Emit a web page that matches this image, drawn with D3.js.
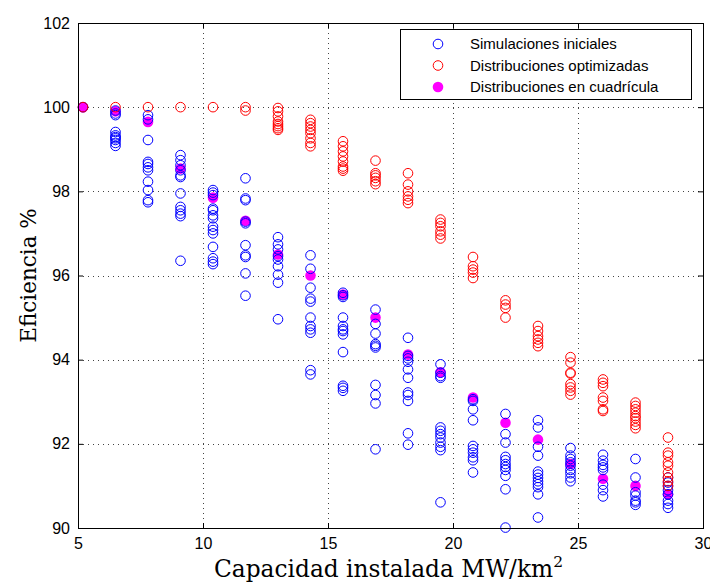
<!DOCTYPE html>
<html>
<head>
<meta charset="utf-8">
<script src="https://cdn.jsdelivr.net/npm/d3@7"></script>
<style>
  html, body { margin: 0; padding: 0; background: #fff; }
  svg { display: block; }
</style>
</head>
<body>
<svg id="chart" width="710" height="583"></svg>
<script>
// Installed capacity (MW/km²) of each simulated layout group
const capacities = [5.2, 6.5, 7.8, 9.1, 10.4, 11.7, 13.0, 14.3, 15.6, 16.9, 18.2, 19.5, 20.8, 22.1, 23.4, 24.7, 26.0, 27.3, 28.6];

// Efficiency (%) of the initial simulations, one list per capacity
const initialSims = [
  [100],
  [99.92, 99.85, 99.81, 99.41, 99.33, 99.29, 99.26, 99.22, 99.15, 99.08],
  [99.81, 99.71, 99.22, 98.70, 98.65, 98.57, 98.50, 98.23, 98.03, 97.79, 97.74],
  [98.86, 98.74, 98.62, 98.50, 98.38, 98.34, 97.95, 97.63, 97.55, 97.47, 97.41, 96.35],
  [98.03, 97.97, 97.91, 97.59, 97.55, 97.43, 97.36, 97.16, 97.08, 97.00, 96.68, 96.41, 96.33, 96.27],
  [98.31, 97.83, 97.79, 97.28, 97.24, 96.72, 96.48, 96.44, 96.05, 95.52],
  [96.91, 96.74, 96.62, 96.46, 96.38, 96.22, 96.02, 95.83, 94.96],
  [96.48, 96.16, 95.71, 95.45, 95.38, 95.00, 94.80, 94.72, 94.64, 93.75, 93.65],
  [95.59, 95.53, 95.49, 95.00, 94.80, 94.72, 94.68, 94.60, 94.18, 93.38, 93.33, 93.26],
  [95.19, 94.85, 94.62, 94.37, 94.33, 94.29, 93.40, 93.16, 92.96, 91.87],
  [94.52, 94.09, 94.03, 93.95, 93.77, 93.57, 93.22, 93.16, 93.02, 92.25, 91.98],
  [93.89, 93.69, 93.61, 93.57, 92.39, 92.31, 92.23, 92.15, 92.03, 91.93, 91.85, 90.61],
  [93.06, 93.02, 92.82, 92.56, 91.95, 91.87, 91.79, 91.68, 91.61, 91.32],
  [92.71, 92.23, 92.03, 91.69, 91.61, 91.52, 91.45, 91.38, 91.24, 90.92, 90.01],
  [92.56, 92.39, 91.93, 91.72, 91.34, 91.27, 91.19, 91.11, 91.04, 90.97, 90.80, 90.25],
  [91.90, 91.72, 91.64, 91.56, 91.48, 91.38, 91.30, 91.20, 91.11],
  [91.74, 91.60, 91.50, 91.44, 91.38, 91.03, 90.90, 90.75],
  [91.64, 91.20, 90.85, 90.77, 90.65, 90.61, 90.55],
  [91.20, 91.08, 91.00, 90.90, 90.80, 90.65, 90.57, 90.48]
];

// Efficiency (%) of the optimized layouts, one list per capacity
const optimizedLayouts = [
  [100],
  [100],
  [100],
  [100],
  [100],
  [100, 99.92],
  [99.98, 99.90, 99.78, 99.66, 99.60, 99.55, 99.50, 99.46],
  [99.70, 99.62, 99.54, 99.46, 99.38, 99.26, 99.15, 99.07],
  [99.19, 99.07, 98.95, 98.83, 98.71, 98.59, 98.54, 98.49],
  [98.73, 98.43, 98.38, 98.32, 98.24, 98.17],
  [98.43, 98.16, 98.00, 97.88, 97.80, 97.72],
  [97.33, 97.25, 97.17, 97.05, 96.97, 96.88],
  [96.44, 96.22, 96.14, 96.07, 95.94],
  [95.41, 95.31, 95.23, 95.00],
  [94.80, 94.68, 94.56, 94.48, 94.40, 94.32],
  [94.06, 93.93, 93.69, 93.67, 93.42, 93.34, 93.26, 93.17],
  [93.53, 93.45, 93.37, 93.10, 93.02, 92.82, 92.78],
  [92.98, 92.90, 92.82, 92.74, 92.66, 92.61, 92.53, 92.45, 92.37],
  [92.15, 91.79, 91.72, 91.56, 91.48, 91.32, 91.20, 91.11, 91.00]
];

// Efficiency (%) of the regular grid layout at each capacity
const gridLayouts = [100, 99.90, 99.65, 98.54, 97.85, 97.30, 96.50, 96.00, 95.55, 95.00, 94.12, 93.70, 93.10, 92.50, 92.10, 91.52, 91.17, 91.00, 90.80];

const xTicks = [5, 10, 15, 20, 25, 30];
const yTicks = [90, 92, 94, 96, 98, 100, 102];

const seriesNames = ["Simulaciones iniciales", "Distribuciones optimizadas", "Distribuciones en cuadrícula"];
const seriesColors = ["#0000ff", "#ff0000", "#ff00ff"];

const margin = { left: 78, right: 7, top: 23, bottom: 55 };
const W = 710, H = 583;
const x = d3.scaleLinear().domain([5, 30]).range([margin.left, W - margin.right]);
const y = d3.scaleLinear().domain([90, 102]).range([H - margin.bottom, margin.top]);

const svg = d3.select("#chart");
const tickFont = "'Liberation Sans', Arial, Helvetica, sans-serif";
const labelFont = "'DejaVu Serif', 'Liberation Serif', serif";

// dotted grid
const grid = svg.append("g").attr("stroke", "#444").attr("stroke-width", 1)
  .attr("stroke-dasharray", "1,4").attr("shape-rendering", "crispEdges");
grid.selectAll("line.vx").data(xTicks.slice(1, -1)).join("line")
  .attr("x1", d => Math.round(x(d)) + 0.5).attr("x2", d => Math.round(x(d)) + 0.5)
  .attr("y1", y(102)).attr("y2", y(90));
grid.selectAll("line.hy").data(yTicks.slice(1, -1)).join("line")
  .attr("y1", d => Math.round(y(d)) + 0.5).attr("y2", d => Math.round(y(d)) + 0.5)
  .attr("x1", x(5)).attr("x2", x(30));

// axes with inward ticks on all four sides
const tickLen = 5;
const xAxis = d3.axisBottom(x).tickValues(xTicks).tickSize(-tickLen).tickPadding(10).tickFormat(d3.format("d"));
const yAxis = d3.axisLeft(y).tickValues(yTicks).tickSize(-tickLen).tickPadding(8).tickFormat(d3.format("d"));
const xAxisTop = d3.axisTop(x).tickValues(xTicks).tickSize(-tickLen).tickFormat("");
const yAxisRight = d3.axisRight(y).tickValues(yTicks).tickSize(-tickLen).tickFormat("");

function styleAxis(g) {
  g.select(".domain").remove();
  g.selectAll(".tick line").attr("stroke", "#000");
  g.selectAll("text").attr("font-family", tickFont).attr("font-size", 16).attr("fill", "#000");
}
svg.append("g").attr("transform", `translate(0,${y(90)})`).call(xAxis).call(styleAxis);
svg.append("g").attr("transform", `translate(${x(5)},0)`).call(yAxis).call(styleAxis);
svg.append("g").attr("transform", `translate(0,${y(102)})`).call(xAxisTop).call(styleAxis);
svg.append("g").attr("transform", `translate(${x(30)},0)`).call(yAxisRight).call(styleAxis);

// markers: grid layouts underneath, then initial and optimized rings
const r = 4.8;
const pts = (lists) => lists.flatMap((vals, i) => vals.map(v => ({ c: capacities[i], v })));

svg.append("g").selectAll("circle").data(gridLayouts.map((v, i) => ({ c: capacities[i], v }))).join("circle")
  .attr("cx", d => x(d.c)).attr("cy", d => y(d.v)).attr("r", r + 0.5)
  .attr("fill", seriesColors[2]);

svg.append("g").selectAll("circle").data(pts(initialSims)).join("circle")
  .attr("cx", d => x(d.c)).attr("cy", d => y(d.v)).attr("r", r)
  .attr("fill", "none").attr("stroke", seriesColors[0]).attr("stroke-width", 1);

svg.append("g").selectAll("circle").data(pts(optimizedLayouts)).join("circle")
  .attr("cx", d => x(d.c)).attr("cy", d => y(d.v)).attr("r", r)
  .attr("fill", "none").attr("stroke", seriesColors[1]).attr("stroke-width", 1);

// axes box
svg.append("rect").attr("x", x(5)).attr("y", y(102)).attr("width", x(30) - x(5)).attr("height", y(90) - y(102))
  .attr("fill", "none").attr("stroke", "#000").attr("stroke-width", 1).attr("shape-rendering", "crispEdges");

// legend
const lg = svg.append("g");
lg.append("rect").attr("x", 400.5).attr("y", 29.5).attr("width", 291).attr("height", 70)
  .attr("fill", "#fff").attr("stroke", "#000").attr("stroke-width", 1);
const legendRows = lg.selectAll("g.row").data(seriesNames).join("g")
  .attr("transform", (d, i) => `translate(0,${44 + i * 21.5})`);
legendRows.append("circle").attr("cx", 438).attr("cy", 0).attr("r", (d, i) => i === 2 ? r + 0.5 : r)
  .attr("fill", (d, i) => i === 2 ? seriesColors[2] : "none")
  .attr("stroke", (d, i) => i === 2 ? "none" : seriesColors[i]).attr("stroke-width", 1);
legendRows.append("text").attr("x", 470).attr("y", 0).attr("dy", "0.35em")
  .attr("font-family", tickFont).attr("font-size", 15).attr("fill", "#000").text(d => d);

// axis titles
const xt = svg.append("text").attr("x", (x(5) + x(30)) / 2 - 2).attr("y", 577).attr("text-anchor", "middle")
  .attr("font-family", labelFont).attr("font-size", 23.3).attr("fill", "#000");
xt.append("tspan").text("Capacidad instalada MW/km");
xt.append("tspan").attr("dy", -10).attr("font-size", 15.5).text("2");

svg.append("text").attr("transform", `translate(36,${(y(90) + y(102)) / 2}) rotate(-90)`)
  .attr("text-anchor", "middle").attr("font-family", labelFont).attr("font-size", 21.5).attr("fill", "#000")
  .text("Eficiencia %");
</script>
</body>
</html>
